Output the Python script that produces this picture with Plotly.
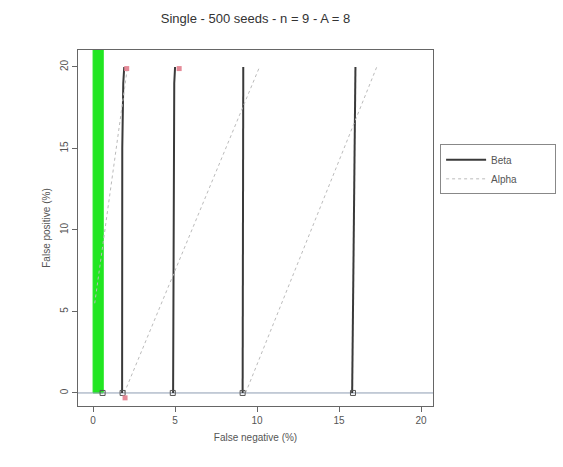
import plotly.graph_objects as go

# ---- data ----
title_text = "Single - 500 seeds - n = 9 - A = 8"
x_ticks = [0, 5, 10, 15, 20]
y_ticks = [0, 5, 10, 15, 20]

# Beta curves (nearly vertical): x values at y levels
beta_y = [0, 15, 19, 20]
beta_x = [
    [1.77, 1.78, 1.84, 1.90],
    [4.88, 4.90, 4.95, 5.00],
    [9.12, 9.14, 9.15, 9.16],
    [15.80, 15.95, 15.98, 16.00],
]

# Alpha curves (dashed diagonals)
alpha_x = [
    [0.10, 2.10],
    [1.90, 10.15],
    [9.30, 17.30],
]
alpha_y = [
    [5.5, 20.0],
    [0.0, 20.0],
    [0.0, 20.0],
]

# green band
green_x = [0.0, 0.62]
green_y = [0.0, 22.0]

# end markers at y = 0
end_x = [0.58, 1.80, 4.86, 9.12, 15.85]
end_y = [0, 0, 0, 0, 0]
# red markers
red_x = [2.05, 5.25, 1.95]
red_y = [19.9, 19.9, -0.3]

fig = go.Figure()

# green band polygon
gx = [green_x[0], green_x[1], green_x[1], green_x[0], green_x[0]]
gy = [green_y[0], green_y[0], green_y[1], green_y[1], green_y[0]]
fig.add_trace(go.Scatter(x=gx, y=gy, fill="toself", fillcolor="#22e622",
                         line=dict(color="#22e622", width=1), mode="lines",
                         showlegend=False, hoverinfo="skip"))

# horizontal line at y=0
fig.add_trace(go.Scatter(x=[-5, 30], y=[0, 0], mode="lines",
                         line=dict(color="#8d9db3", width=1),
                         showlegend=False, hoverinfo="skip"))

# beta
for i, bx in enumerate(beta_x):
    fig.add_trace(go.Scatter(x=bx, y=beta_y, mode="lines",
                             line=dict(color="#3a3a3a", width=2),
                             name="Beta", legendgroup="beta",
                             showlegend=(i == 0)))
# alpha
for i, (ax_, ay_) in enumerate(zip(alpha_x, alpha_y)):
    fig.add_trace(go.Scatter(x=ax_, y=ay_, mode="lines",
                             line=dict(color="#bbbbbb", width=1, dash="3px,3px"),
                             name="Alpha", legendgroup="alpha",
                             showlegend=(i == 0)))

fig.add_trace(go.Scatter(x=end_x, y=end_y, mode="markers",
                         marker=dict(symbol="square-open", size=5,
                                     color="#555555", line=dict(width=1)),
                         showlegend=False))
fig.add_trace(go.Scatter(x=red_x, y=red_y, mode="markers",
                         marker=dict(symbol="square", size=5, color="#e58a98"),
                         showlegend=False))

axis_common = dict(showgrid=False, zeroline=False, showline=True, mirror=True,
                   linecolor="#666666", linewidth=1, ticks="outside",
                   ticklen=5, tickcolor="#666666",
                   tickfont=dict(size=10, color="#555555"))

fig.update_layout(
    width=563, height=467,
    margin=dict(l=78, r=130, t=50, b=61, autoexpand=False),
    paper_bgcolor="white", plot_bgcolor="white",
    font=dict(family="Liberation Sans, Arial, sans-serif", color="#444444"),
    title=dict(text=title_text, x=0.5, xref="paper", xanchor="center",
               y=1 - 18 / 467, yanchor="middle",
               font=dict(size=13, color="#333333")),
    xaxis=dict(range=[-0.92, 20.73], tickvals=x_ticks,
               title=dict(text="False negative (%)", font=dict(size=10, color="#555555"), standoff=8),
               **axis_common),
    yaxis=dict(range=[-0.8, 21.04], tickvals=y_ticks, tickangle=-90,
               title=dict(text="False positive (%)", font=dict(size=10, color="#555555"), standoff=6),
               **axis_common),
    legend=dict(x=1.02, y=0.735, xanchor="left", yanchor="top",
                bordercolor="#888888", borderwidth=1, bgcolor="white",
                itemwidth=40,
                font=dict(size=10, color="#555555"), tracegroupgap=0),
)

# pad legend names so the box is as wide as the original
fig.for_each_trace(lambda t: t.update(name=t.name + "\u00a0" * 12) if t.name in ("Beta", "Alpha") else None)

fig.write_html("out.html")
